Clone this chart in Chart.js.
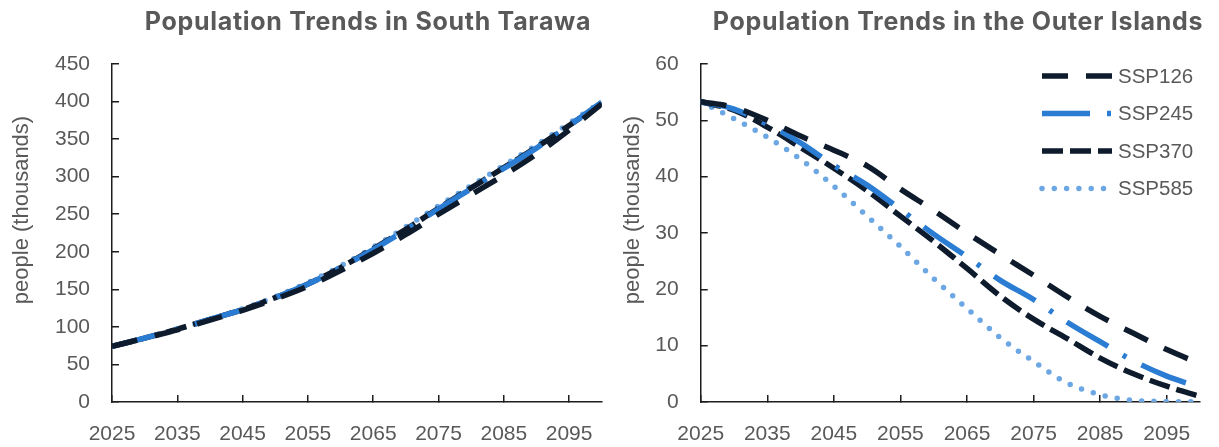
<!DOCTYPE html>
<html>
<head>
<meta charset="utf-8">
<title>Population Trends</title>
<script src="https://cdn.jsdelivr.net/npm/chart.js@4.4.1/dist/chart.umd.min.js"></script>
<style>
  html, body { margin: 0; padding: 0; background: #ffffff; }
  #wrap { position: relative; width: 1219px; height: 447px; overflow: hidden; }
  .panel { position: absolute; top: 0; height: 447px; }
  #panelA { left: 0; width: 620px; }
  #panelB { left: 620px; width: 599px; }
  canvas { display: block; }
</style>
</head>
<body>
<div id="wrap">
  <div class="panel" id="panelA"><canvas id="tarawa" width="620" height="447"></canvas></div>
  <div class="panel" id="panelB"><canvas id="outer" width="599" height="447"></canvas></div>
</div>
<script>
// ---- data -------------------------------------------------------------
const years = [2025, 2030, 2035, 2040, 2045, 2050, 2055, 2060, 2065, 2070, 2075, 2080, 2085, 2090, 2095, 2100];
const scenarios = ['SSP126', 'SSP245', 'SSP370', 'SSP585'];
const xTickYears = [2025, 2035, 2045, 2055, 2065, 2075, 2085, 2095];

// South Tarawa, thousands of people
const tarawaSSP126 = [74, 85, 96, 109, 122, 137, 154, 175, 198, 223, 250, 276, 302, 330, 362, 397];
const tarawaSSP245 = [74, 85, 97, 110, 123, 139, 157, 179, 203, 229, 257, 284, 311, 338, 368, 399];
const tarawaSSP370 = [74, 85, 97, 110, 123, 139, 157, 179, 204, 230, 258, 285, 312, 339, 368, 398];
const tarawaSSP585 = [74, 85, 97, 110, 124, 140, 159, 181, 206, 233, 261, 288, 315, 342, 371, 400];
const tarawaYTicks = [0, 50, 100, 150, 200, 250, 300, 350, 400, 450];

// Outer Islands, thousands of people
const outerSSP126 = [53.3, 52.3, 50.0, 47.2, 44.7, 41.9, 37.8, 34.0, 30.0, 26.2, 22.5, 18.7, 15.2, 12.2, 9.3, 6.8];
const outerSSP245 = [53.3, 52.0, 49.3, 46.0, 42.0, 38.5, 34.2, 29.8, 25.8, 21.6, 18.2, 14.2, 10.7, 7.3, 4.6, 2.6];
const outerSSP370 = [53.3, 51.8, 48.8, 45.2, 41.5, 37.5, 33.0, 28.5, 23.7, 18.8, 14.7, 11.3, 7.8, 5.0, 2.8, 1.0];
const outerSSP585 = [53.3, 50.3, 47.0, 43.1, 38.3, 33.0, 27.6, 21.9, 16.6, 11.4, 7.2, 3.4, 1.3, 0.3, 0.1, 0.0];
const outerYTicks = [0, 10, 20, 30, 40, 50, 60];

// ---- styles -----------------------------------------------------------
const NAVY = '#0e1b2c';
const BLUE = '#2b7cd3';
const LIGHT = '#6ca7e3';
const TEXT = '#595959';
const AXIS = '#1c1c1c';
const FONT = "'Liberation Sans', Arial, sans-serif";
const TITLE_FONT = "bold 25px Inter, 'Liberation Sans', sans-serif";

const lineStyles = {
  SSP126: { color: NAVY,  width: 5.5, dash: [26, 18],        cap: 'butt'  },
  SSP245: { color: BLUE,  width: 5.5, dash: [48, 17, 4, 17], cap: 'butt'  },
  SSP370: { color: NAVY,  width: 5.5, dash: [21, 7],         cap: 'butt'  },
  SSP585: { color: LIGHT, width: 5.5, dash: [0, 12.3],       cap: 'round' }
};

function buildDatasets(seriesList) {
  return scenarios.map((name, i) => {
    const st = lineStyles[name];
    return {
      label: name,
      data: years.map((yr, j) => ({ x: yr, y: seriesList[i][j] })),
      borderColor: st.color,
      backgroundColor: st.color,
      borderWidth: st.width,
      borderDash: st.dash,
      borderCapStyle: st.cap,
      borderJoinStyle: 'round',
      pointRadius: 0,
      pointHoverRadius: 0,
      fill: false,
      cubicInterpolationMode: 'monotone'
    };
  });
}

// Titles, rotated y-axis caption and (optionally) an in-plot legend
function decorations(opts) {
  return {
    id: 'decorations',
    afterDraw(chart) {
      const ctx = chart.ctx;
      ctx.save();
      ctx.fillStyle = TEXT;
      ctx.font = TITLE_FONT;
      if ('letterSpacing' in ctx) ctx.letterSpacing = '0.7px';
      ctx.textAlign = 'center';
      ctx.textBaseline = 'alphabetic';
      ctx.fillText(opts.title, opts.titleX, 30);
      if ('letterSpacing' in ctx) ctx.letterSpacing = '0px';

      ctx.translate(opts.yTitleX, opts.yTitleY);
      ctx.rotate(-Math.PI / 2);
      ctx.font = '22px ' + FONT;
      ctx.textBaseline = 'middle';
      ctx.fillText('people (thousands)', 0, 0);
      ctx.restore();

      if (opts.legend) {
        const lg = opts.legend;
        chart.data.datasets.forEach((ds, i) => {
          const y = lg.y0 + i * lg.step;
          ctx.save();
          ctx.strokeStyle = ds.borderColor;
          ctx.lineWidth = ds.borderWidth;
          ctx.lineCap = ds.borderCapStyle;
          ctx.setLineDash(ds.borderDash);
          ctx.beginPath();
          ctx.moveTo(lg.x0, y);
          ctx.lineTo(lg.x0 + lg.len, y);
          ctx.stroke();
          ctx.restore();
          ctx.save();
          ctx.fillStyle = TEXT;
          ctx.font = '20.5px ' + FONT;
          ctx.textAlign = 'left';
          ctx.textBaseline = 'middle';
          ctx.fillText(ds.label, lg.x0 + lg.len + 6, y + 1);
          ctx.restore();
        });
      }
    }
  };
}

function makeChart(canvasId, seriesList, yTicks, geo, deco) {
  const tickFont = { family: FONT, size: 21 };
  const gridOpts = { drawOnChartArea: false, drawTicks: true, tickLength: -7, color: AXIS, lineWidth: 1.5 };
  return new Chart(document.getElementById(canvasId), {
    type: 'line',
    data: { datasets: buildDatasets(seriesList) },
    options: {
      responsive: false,
      animation: false,
      devicePixelRatio: 1,
      layout: { padding: { top: 64, left: 0, right: geo.padRight, bottom: 0 } },
      plugins: { legend: { display: false }, title: { display: false }, tooltip: { enabled: false } },
      events: [],
      scales: {
        x: {
          type: 'linear',
          min: years[0],
          max: years[years.length - 1],
          afterBuildTicks: s => { s.ticks = xTickYears.map(v => ({ value: v })); },
          afterFit: s => { s.height = 45; },
          ticks: { callback: v => String(v), color: TEXT, font: tickFont, padding: 27, maxRotation: 0, autoSkip: false },
          grid: gridOpts,
          border: { color: AXIS, width: 1.5 }
        },
        y: {
          min: yTicks[0],
          max: yTicks[yTicks.length - 1],
          afterBuildTicks: s => { s.ticks = yTicks.map(v => ({ value: v })); },
          afterFit: s => { s.width = geo.yWidth; },
          ticks: { callback: v => String(v), color: TEXT, font: tickFont, padding: 29, autoSkip: false },
          grid: gridOpts,
          border: { color: AXIS, width: 1.5 }
        }
      }
    },
    plugins: [decorations(deco)]
  });
}

makeChart('tarawa',
  [tarawaSSP126, tarawaSSP245, tarawaSSP370, tarawaSSP585],
  tarawaYTicks,
  { yWidth: 112, padRight: 8 },
  { title: 'Population Trends in South Tarawa', titleX: 368, yTitleX: 22, yTitleY: 210 });

makeChart('outer',
  [outerSSP126, outerSSP245, outerSSP370, outerSSP585],
  outerYTicks,
  { yWidth: 80.7, padRight: 19 },
  { title: 'Population Trends in the Outer Islands', titleX: 338, yTitleX: 13, yTitleY: 210,
    legend: { x0: 422, len: 70, y0: 76, step: 37.5 } });
</script>
</body>
</html>
